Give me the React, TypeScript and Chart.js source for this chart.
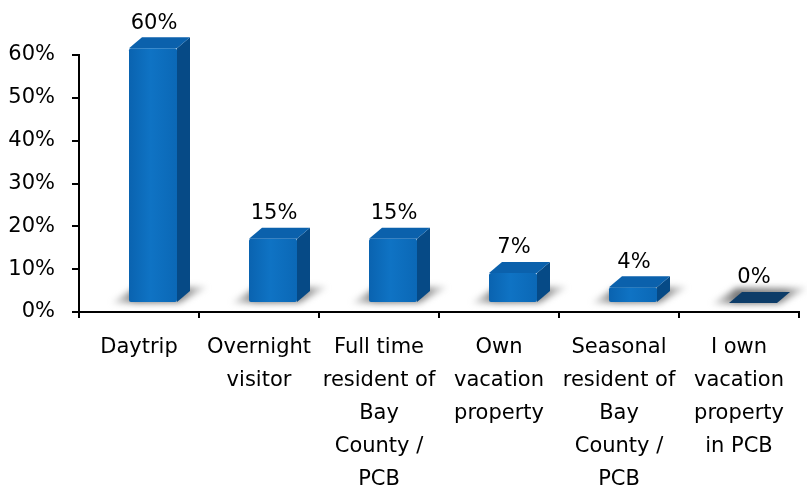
import React, { useEffect, useRef } from "react";
import { Chart, registerables } from "chart.js";

Chart.register(...registerables);

const categories: string[][] = [
  ["Daytrip"],
  ["Overnight", "visitor"],
  ["Full time", "resident of", "Bay", "County /", "PCB"],
  ["Own", "vacation", "property"],
  ["Seasonal", "resident of", "Bay", "County /", "PCB"],
  ["I own", "vacation", "property", "in PCB"],
];
const values: number[] = [0.595, 0.15, 0.15, 0.07, 0.037, 0.0];
const dataLabels: string[] = ["60%", "15%", "15%", "7%", "4%", "0%"];
const yMin = 0;
const yMax = 0.6;
const yStep = 0.1;

const FONT = "'DejaVu Sans', sans-serif";
const FS = 21;

const bar3d = {
  id: "bar3d",
  afterDatasetsDraw(chart: any) {
    const ctx = chart.ctx as CanvasRenderingContext2D;
    const meta = chart.getDatasetMeta(0);
    const ox = 14, oy = 9, dx = 13, dy = 11;
    meta.data.forEach((el: any) => {
      const { x, base, width } = el.getProps(["x", "base", "width"], true);
      const L = x - width / 2 + ox, R = x + width / 2 + ox, B = base - oy;
      ctx.save();
      ctx.filter = "blur(3px)";
      const g = ctx.createLinearGradient(L - 18, 0, R + dx + 20, 0);
      g.addColorStop(0, "rgba(160,160,160,0.3)");
      g.addColorStop(0.25, "rgba(105,105,105,0.9)");
      g.addColorStop(0.75, "rgba(115,115,115,0.8)");
      g.addColorStop(1, "rgba(170,170,170,0.3)");
      ctx.fillStyle = g;
      ctx.beginPath();
      ctx.moveTo(L - 17, B + 1);
      ctx.lineTo(R + 2, B + 1);
      ctx.lineTo(R + dx + 17, B - dy - 4);
      ctx.lineTo(L + dx - 6, B - dy - 4);
      ctx.closePath();
      ctx.fill();
      ctx.restore();
    });
    meta.data.forEach((el: any, i: number) => {
      const { x, y, base, width } = el.getProps(["x", "y", "base", "width"], true);
      const L = x - width / 2 + ox, R = x + width / 2 + ox;
      const T = y - oy, B = base - oy;
      const h = B - T;
      ctx.save();
      if (h > 0.5) {
        ctx.fillStyle = "#064a86";
        ctx.beginPath();
        ctx.moveTo(R, T);
        ctx.lineTo(R + dx, T - dy);
        ctx.lineTo(R + dx, B - dy);
        ctx.lineTo(R, B);
        ctx.closePath();
        ctx.fill();
        ctx.fillStyle = "#0b61ac";
        ctx.beginPath();
        ctx.moveTo(L, T);
        ctx.lineTo(L + dx, T - dy);
        ctx.lineTo(R + dx, T - dy);
        ctx.lineTo(R, T);
        ctx.closePath();
        ctx.fill();
        const fg = ctx.createLinearGradient(L, 0, R, 0);
        fg.addColorStop(0, "#0a63b0");
        fg.addColorStop(0.45, "#0f73c4");
        fg.addColorStop(1, "#0b68b6");
        ctx.fillStyle = fg;
        ctx.beginPath();
        (ctx as any).roundRect(L, T, R - L, h, 2);
        ctx.fill();
      } else {
        ctx.fillStyle = "#0d3c68";
        ctx.beginPath();
        ctx.moveTo(L, B);
        ctx.lineTo(L + dx, B - dy);
        ctx.lineTo(R + dx, B - dy);
        ctx.lineTo(R, B);
        ctx.closePath();
        ctx.fill();
      }
      ctx.fillStyle = "#000";
      ctx.font = `${FS}px ${FONT}`;
      ctx.textAlign = "center";
      ctx.textBaseline = "middle";
      ctx.fillText(dataLabels[i], (L + R) / 2 + 1, T - dy - 14);
      ctx.restore();
    });
  },
};

export default function App() {
  const ref = useRef<HTMLCanvasElement>(null);
  useEffect(() => {
    const chart = new Chart(ref.current!, {
      type: "bar",
      data: {
        labels: categories,
        datasets: [
          {
            data: values,
            backgroundColor: "rgba(0,0,0,0)",
            borderWidth: 0,
            categoryPercentage: 1,
            barPercentage: 0.4,
          },
        ],
      },
      options: {
        animation: false,
        responsive: false,
        maintainAspectRatio: false,
        layout: { padding: { top: 55, right: 8, left: 0, bottom: 0 } },
        plugins: { legend: { display: false }, tooltip: { enabled: false } },
        scales: {
          x: {
            offset: true,
            grid: {
              offset: true,
              drawOnChartArea: false,
              drawTicks: true,
              tickLength: 6,
              color: "#000",
              lineWidth: 2,
            },
            border: { display: true, color: "#000", width: 2 },
            ticks: {
              color: "#000",
              font: { family: FONT, size: FS, lineHeight: 1.57 },
              padding: 13,
              maxRotation: 0,
              autoSkip: false,
            },
            afterFit: (scale: any) => {
              scale.height = 178;
            },
          },
          y: {
            min: yMin,
            max: yMax,
            grid: {
              drawOnChartArea: false,
              drawTicks: true,
              tickLength: 7,
              color: "#000",
              lineWidth: 2,
            },
            border: { display: true, color: "#000", width: 2 },
            ticks: {
              stepSize: yStep,
              color: "#000",
              padding: 17,
              font: { family: FONT, size: FS },
              callback: (v: any) => Math.round(Number(v) * 100) + "%",
            },
            afterFit: (scale: any) => {
              scale.width = 79;
            },
          },
        },
      },
      plugins: [bar3d],
    });
    return () => chart.destroy();
  }, []);
  return (
    <div style={{ position: "fixed", left: 0, top: 0, width: 807, height: 490, background: "#fff" }}>
      <canvas ref={ref} width={807} height={490} style={{ display: "block" }} />
    </div>
  );
}
